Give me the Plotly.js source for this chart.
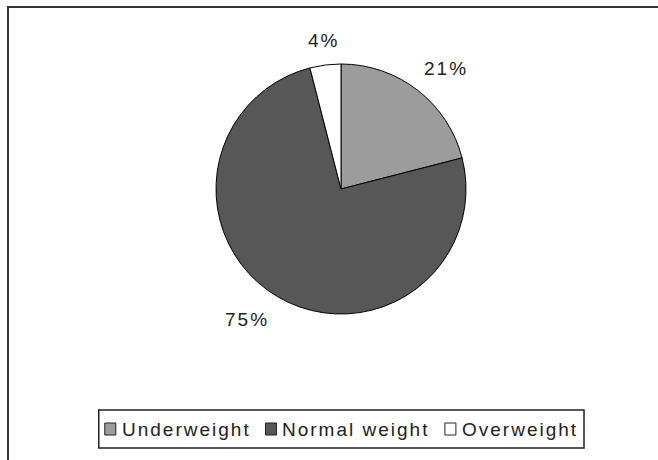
<!DOCTYPE html>
<html><head><meta charset="utf-8">
<script src="https://cdn.plot.ly/plotly-3.0.1.min.js"></script>
<style>
html,body{margin:0;padding:0;background:#fff;}
text{letter-spacing:2px;}
#frame{position:absolute;left:7px;top:6px;width:660px;height:470px;border-left:2px solid #333;border-top:2px solid #333;box-sizing:border-box;pointer-events:none;z-index:10;}
#chart{position:absolute;left:0;top:0;width:658px;height:460px;}
</style>
</head><body>
<div id="chart"></div>
<div id="frame"></div>
<script>
const categories = ["Underweight", "Normal weight", "Overweight"];
const values = [21, 75, 4];
const sliceColors = ["#9c9c9c", "#575757", "#ffffff"];

const W = 658, H = 460;
const cx = 341, cy = 189, r = 125;
const FONT = "Liberation Sans, Arial, sans-serif";
const FS = 19;
const px = x => x / W, py = y => 1 - y / H;

// measure text width (with the page's letter-spacing)
function measure(txt) {
  const ns = "http://www.w3.org/2000/svg";
  const svg = document.createElementNS(ns, "svg");
  svg.setAttribute("style", "position:absolute;left:-9999px;top:0");
  const t = document.createElementNS(ns, "text");
  t.setAttribute("style", "font-family:" + FONT + ";font-size:" + FS + "px");
  t.textContent = txt;
  svg.appendChild(t);
  document.body.appendChild(svg);
  const w = t.getBBox().width;
  document.body.removeChild(svg);
  return w;
}

const annotations = [];
const shapes = [];

// percent labels placed outside each slice, along its mid angle
const total = values.reduce((a, b) => a + b, 0);
let cum = 0;
values.forEach((v, i) => {
  const mid = (cum + v / 2) / total * 2 * Math.PI;
  cum += v;
  const s = Math.sin(mid), c = Math.cos(mid);
  const d = r + 12;
  annotations.push({
    xref: "paper", yref: "paper",
    x: px(cx + d * s - (s > 0.3 ? 3 : 0)), y: py(cy - d * c),
    xanchor: s > 0.3 ? "left" : (s < -0.3 ? "right" : "center"),
    yanchor: c > 0.3 ? "bottom" : (c < -0.3 ? "top" : "middle"),
    text: Math.round(v / total * 100) + "%",
    showarrow: false,
    font: {family: FONT, size: FS, color: "#222"}
  });
});

// legend drawn as box + swatches + texts
const legTop = 410, legBot = 448, legRight = 584;
const sq = 11, gapST = 6, gapItem = 15, padL = 6, padR = 6;
const widths = categories.map(measure);
const totalW = padL + widths.reduce((a, w) => a + sq + gapST + w, 0) + gapItem * (categories.length - 1) + padR;
const legLeft = legRight - totalW;
shapes.push({type: "rect", xref: "paper", yref: "paper",
  x0: px(legLeft), x1: px(legRight), y0: py(legBot), y1: py(legTop),
  line: {color: "#222", width: 1.5}, fillcolor: "rgba(0,0,0,0)"});
const midY = (legTop + legBot) / 2;
let xPos = legLeft + padL;
categories.forEach((cat, i) => {
  shapes.push({type: "rect", xref: "paper", yref: "paper",
    x0: px(xPos), x1: px(xPos + sq), y0: py(midY + 6), y1: py(midY - 6),
    line: {color: "#222", width: 1}, fillcolor: sliceColors[i]});
  xPos += sq + gapST;
  annotations.push({xref: "paper", yref: "paper", x: px(xPos - 2), y: py(midY),
    xanchor: "left", yanchor: "middle", text: cat, showarrow: false,
    font: {family: FONT, size: FS, color: "#222"}});
  xPos += widths[i] + gapItem;
});

Plotly.newPlot("chart", [{
  type: "pie",
  labels: categories,
  values: values,
  sort: false,
  direction: "clockwise",
  rotation: 0,
  marker: {colors: sliceColors, line: {color: "#000", width: 1}},
  textinfo: "none",
  domain: {x: [px(cx - r), px(cx + r)], y: [py(cy + r), py(cy - r)]},
  hoverinfo: "none"
}], {
  width: W, height: H,
  margin: {l: 0, r: 0, t: 0, b: 0},
  paper_bgcolor: "#fff",
  showlegend: false,
  annotations: annotations,
  shapes: shapes
}, {staticPlot: true});
</script>
</body></html>
